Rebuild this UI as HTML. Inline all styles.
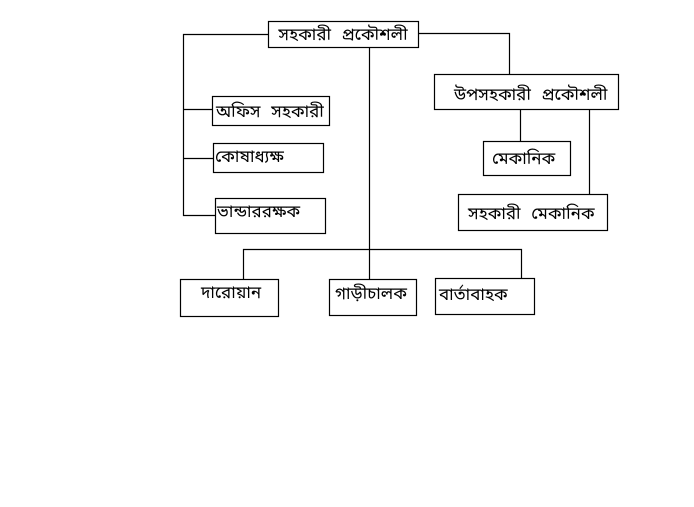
<!DOCTYPE html>
<html><head><meta charset="utf-8"><style>
html,body{margin:0;padding:0;background:#fff;}
svg{display:block;}
text{font-family:"Liberation Sans","Noto Sans Bengali","Lohit Bengali","FreeSerif",sans-serif;font-size:17px;fill:#000;word-spacing:6px;}
</style></head><body>
<svg width="694" height="507" viewBox="0 0 694 507" xmlns="http://www.w3.org/2000/svg">
<g fill="none" stroke="#000" stroke-width="1.2">
<rect x="268.5" y="21.5" width="150" height="26"/>
<rect x="212.5" y="96.5" width="117" height="29"/>
<rect x="213.5" y="143.5" width="110" height="29"/>
<rect x="215.5" y="198.5" width="110" height="35"/>
<rect x="434.5" y="74.5" width="184" height="35"/>
<rect x="483.5" y="141.5" width="87" height="34"/>
<rect x="458.5" y="194.5" width="149" height="36"/>
<rect x="180.5" y="279.5" width="98" height="37"/>
<rect x="329.5" y="279.5" width="87" height="36"/>
<rect x="435.5" y="278.5" width="99" height="36"/>
<path d="M268.5 34.5H183.5V215.5H215.5M183.5 109.5H212.5M183.5 158.5H213.5"/>
<path d="M418.5 33.5H509.5V74.5"/>
<path d="M520.5 109.5V141.5M589.5 109.5V194.5"/>
<path d="M369.5 47.5V279.5M243.5 279.5V249.5H521.5V278.5"/>
</g>
<text x="343" y="40" text-anchor="middle">সহকারী প্রকৌশলী</text>
<text x="216" y="117">অফিস সহকারী</text>
<text x="215" y="162">কোষাধ্যক্ষ</text>
<text x="217" y="217">ভান্ডাররক্ষক</text>
<text x="454" y="100">উপসহকারী প্রকৌশলী</text>
<text x="492" y="164">মেকানিক</text>
<text x="468" y="219">সহকারী মেকানিক</text>
<text x="201" y="298">দারোয়ান</text>
<text x="335" y="299">গাড়ীচালক</text>
<text x="439" y="300">বার্তাবাহক</text>
</svg>
</body></html>
